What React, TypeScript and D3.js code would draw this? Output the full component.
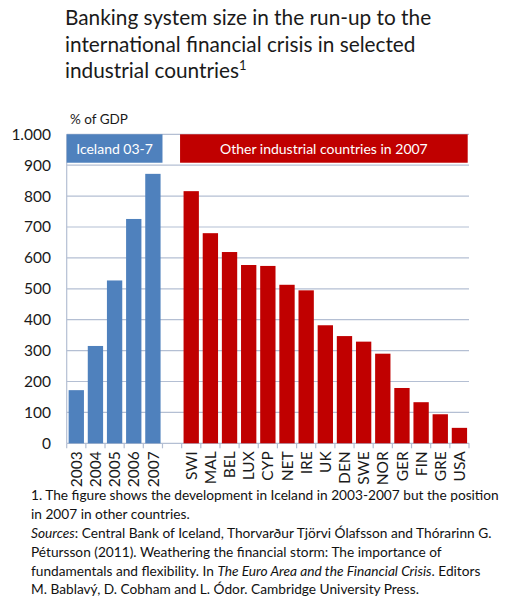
import * as d3 from 'd3';

const years = ['2003', '2004', '2005', '2006', '2007'];
const icelandValues = [172, 315, 527, 726, 872];
const countries = ['SWI', 'MAL', 'BEL', 'LUX', 'CYP', 'NET', 'IRE', 'UK', 'DEN', 'SWE', 'NOR', 'GER', 'FIN', 'GRE', 'USA'];
const countryValues = [816, 680, 619, 577, 574, 513, 495, 382, 347, 329, 290, 179, 133, 94, 50];
const yTicks = [0, 100, 200, 300, 400, 500, 600, 700, 800, 900, 1000];

const titleLines = [
  'Banking system size in the run-up to the',
  'international financial crisis in selected',
  'industrial countries',
];

const BLUE = '#4f81bd';
const RED = '#c00000';
const GRID = '#b4bfd3';
const FONT = 'Lato, "Open Sans", sans-serif';

export default function App() {
  const categories = [...years, 'gap', ...countries];
  const bars = [
    ...years.map((k, i) => ({ key: k, value: icelandValues[i], color: BLUE })),
    ...countries.map((k, i) => ({ key: k, value: countryValues[i], color: RED })),
  ];

  const x = d3.scaleBand<string>()
    .domain(categories)
    .range([66.7, 469])
    .paddingInner(0.2)
    .paddingOuter(0.1);

  const y = d3.scaleLinear().domain([0, 1000]).range([443.3, 134.3]);

  const fmt = d3.formatLocale({ decimal: ',', thousands: '.', grouping: [3], currency: ['', ''] }).format(',');

  const [x0, x1] = x.range();
  const step = x.step();
  const boundaries = d3.range(categories.length + 1).map(i => x0 + i * step);

  // header boxes sit in the top strip of the plot
  const bannerBottom = y(908);
  const banners = [
    { label: 'Iceland 03-7', left: x0, right: x0 + years.length * step, color: BLUE },
    { label: 'Other industrial countries in 2007', left: x('SWI')! - 3.5, right: x1 - 1.3, color: RED },
  ];

  return (
    <svg width={507} height={598} style={{ position: 'absolute', left: 0, top: 0, background: '#fff' }} fontFamily={FONT}>
      {/* title */}
      <text x={65} y={25} fontSize={20.8} fill="#1a1a1a">
        {titleLines.map((l, i) => (
          <tspan key={i} x={65} y={25 + i * 26.5}>
            {l}
            {i === titleLines.length - 1 && <tspan fontSize={13} dy={-8}>1</tspan>}
          </tspan>
        ))}
      </text>

      <text x={70} y={124} fontSize={13.5} fill="#1a1a1a">% of GDP</text>

      {/* gridlines */}
      {yTicks.map(t => (
        <line key={t} x1={x0} x2={x1} y1={y(t)} y2={y(t)} stroke={GRID} strokeWidth={1.2} />
      ))}

      {/* y axis */}
      <line x1={x0} x2={x0} y1={y(1000)} y2={y(0)} stroke={GRID} strokeWidth={1.2} />
      {yTicks.map(t => (
        <text key={t} x={51} y={y(t)} dy="0.35em" textAnchor="end" fontSize={15.5} fill="#1a1a1a">
          {fmt(t)}
        </text>
      ))}

      {/* x tick marks */}
      {boundaries.map((b, i) => (
        <line key={i} x1={b} x2={b} y1={y(0)} y2={y(0) + 5} stroke={GRID} strokeWidth={1.2} />
      ))}

      {/* banners */}
      {banners.map(b => (
        <g key={b.label}>
          <rect x={b.left} y={y(1000)} width={b.right - b.left} height={bannerBottom - y(1000)} fill={b.color} />
          <text x={(b.left + b.right) / 2} y={(y(1000) + bannerBottom) / 2} dy="0.36em" textAnchor="middle" fontSize={14} fill="#fff">
            {b.label}
          </text>
        </g>
      ))}

      {/* bars */}
      {bars.map(b => (
        <rect key={b.key} x={x(b.key)} y={y(b.value)} width={x.bandwidth()} height={y(0) - y(b.value)} fill={b.color} />
      ))}

      {/* category labels */}
      {bars.map(b => (
        <text
          key={b.key}
          transform={`translate(${x(b.key)! + x.bandwidth() / 2},${y(0) + 8}) rotate(-90)`}
          textAnchor="end"
          dy="0.36em"
          fontSize={15.5}
          fill="#1a1a1a"
        >
          {b.key}
        </text>
      ))}

      {/* footnote */}
      <g fontSize={13.7} fill="#111">
        <text x={31} y={500}>1. The figure shows the development in Iceland in 2003-2007 but the position</text>
        <text x={31} y={519}>in 2007 in other countries.</text>
        <text x={31} y={538}>
          <tspan fontStyle="italic">Sources</tspan>: Central Bank of Iceland, Thorvarður Tjörvi Ólafsson and Thórarinn G.
        </text>
        <text x={31} y={557}>Pétursson (2011). Weathering the financial storm: The importance of</text>
        <text x={31} y={576}>
          fundamentals and flexibility. In <tspan fontStyle="italic">The Euro Area and the Financial Crisis</tspan>. Editors
        </text>
        <text x={31} y={594}>M. Bablavý, D. Cobham and L. Ódor. Cambridge University Press.</text>
      </g>
    </svg>
  );
}
